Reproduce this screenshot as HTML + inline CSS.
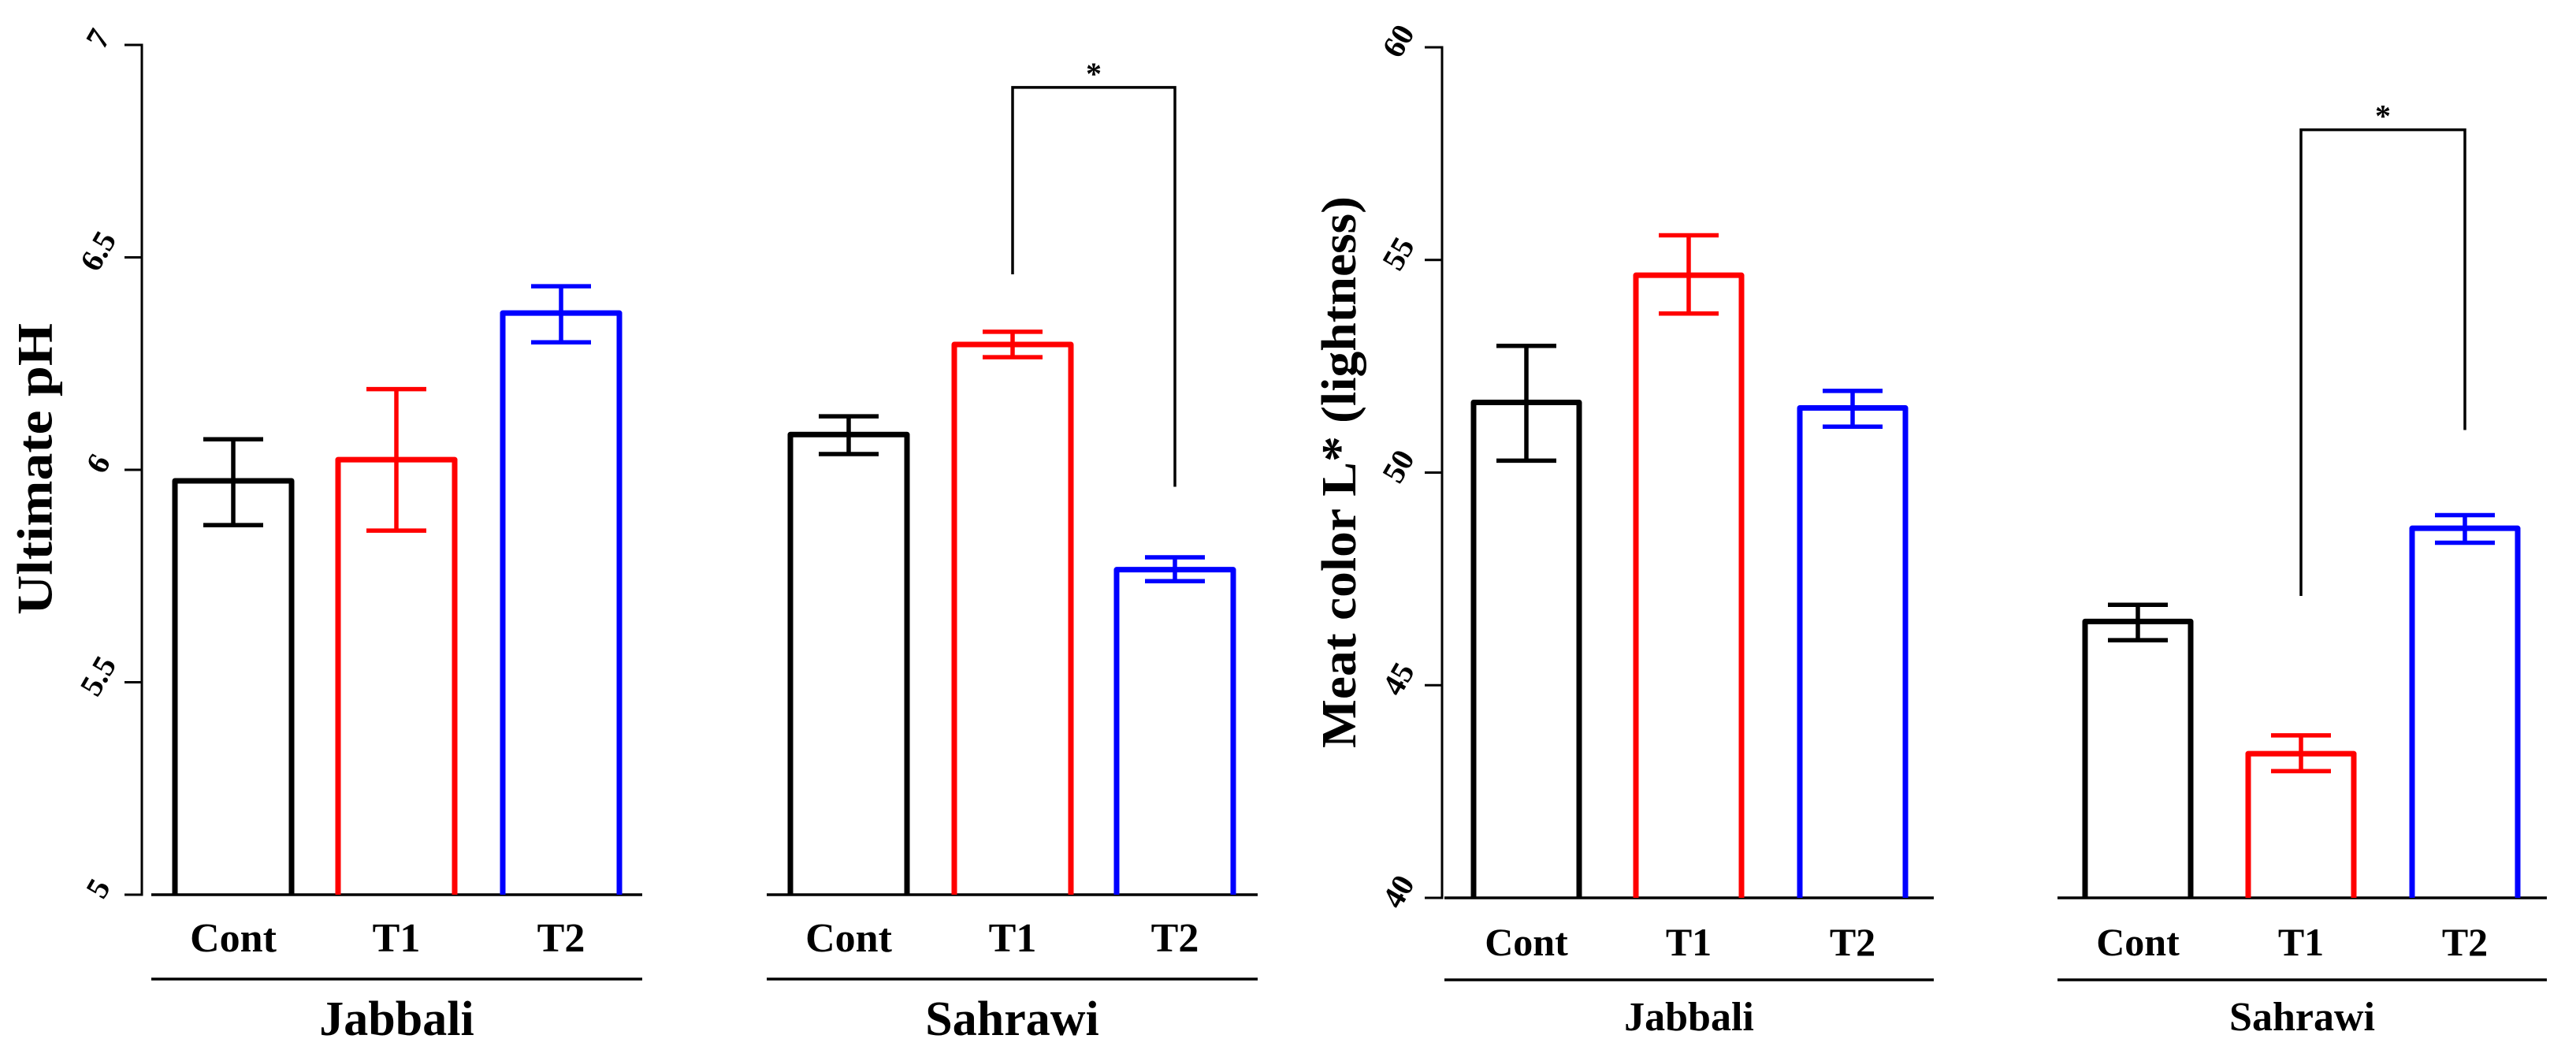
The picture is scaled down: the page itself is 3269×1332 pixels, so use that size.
<!DOCTYPE html>
<html><head><meta charset="utf-8"><style>
html,body{margin:0;padding:0;background:#fff;}
svg{display:block;font-family:"Liberation Serif",serif;font-weight:bold;}
</style></head><body>
<svg id="chart" width="3269" height="1332" viewBox="0 0 3269 1332" xmlns="http://www.w3.org/2000/svg"></svg>
<script>
// ---- data ----
const categories = ["Cont","T1","T2"];
const groups = ["Jabbali","Sahrawi"];
const phTicks = [5,5.5,6,6.5,7];
const phTickLabels = ["5","5.5","6","6.5","7"];
const phJabbaliMean = [5.974,6.024,6.369];
const phJabbaliHi = [6.072,6.19,6.432];
const phJabbaliLo = [5.870,5.857,6.30];
const phSahrawiMean = [6.083,6.295,5.765];
const phSahrawiHi = [6.126,6.325,5.794];
const phSahrawiLo = [6.037,6.265,5.738];
const phBracket = [6.90,6.46,5.96]; // top, left end, right end
const lTicks = [40,45,50,55,60];
const lTickLabels = ["40","45","50","55","60"];
const lJabbaliMean = [51.65,54.64,51.52];
const lJabbaliHi = [52.98,55.58,51.92];
const lJabbaliLo = [50.28,53.74,51.08];
const lSahrawiMean = [46.5,43.39,48.69];
const lSahrawiHi = [46.89,43.82,49.0];
const lSahrawiLo = [46.06,42.98,48.35];
const lBracket = [58.06,47.1,51.0];
const colors = ["#000","#ff0000","#0000ff"];

const svg = document.getElementById('chart');
const NS = "http://www.w3.org/2000/svg";
function mk(tag, attrs, parent){
  const e = document.createElementNS(NS, tag);
  for (const k in attrs) e.setAttribute(k, attrs[k]);
  (parent||svg).appendChild(e);
  return e;
}

function panel(cfg){
  const g = mk('g', {});
  
  
  const y = v => cfg.yBot - (v - cfg.vMin) / (cfg.vMax - cfg.vMin) * (cfg.yBot - cfg.yTop);
  const ax = mk('line', {x1:cfg.axX, x2:cfg.axX, y1:y(cfg.vMax)-1.5, y2:y(cfg.vMin)+1.5, stroke:'#000','stroke-width':3}, g);
  
  
  cfg.ticks.forEach((t,i)=>{
    const tk = mk('line', {x1:cfg.axX-22, x2:cfg.axX, y1:y(t), y2:y(t), stroke:'#000','stroke-width':3}, g);
    
    
    const lx = cfg.axX-52, ly = y(t)-6;
    const tl = mk('text', {x:lx, y:ly, 'font-size':40, 'text-anchor':'middle', 'dominant-baseline':'middle', transform:`rotate(-60 ${lx} ${ly})`}, g);
    tl.textContent = cfg.tickLabels[i];
    
    
  });
  const tt = mk('text', {x:cfg.titleX, y:cfg.titleY, 'font-size':cfg.titleSize, 'text-anchor':'middle', 'dominant-baseline':'middle', textLength:cfg.titleLen, lengthAdjust:'spacingAndGlyphs', transform:`rotate(-90 ${cfg.titleX} ${cfg.titleY})`}, g);
  tt.textContent = cfg.title;
  
  
  cfg.groupsData.forEach((gd, gi)=>{
    const gx = mk('line', {x1:gd.x0, x2:gd.x1, y1:cfg.yBot, y2:cfg.yBot, stroke:'#000','stroke-width':3.5}, g);
    
    
    gd.mean.forEach((m, ci)=>{
      const cx = gd.centers[ci];
      const hw = cfg.barW/2;
      const b = mk('path', {d:`M${cx-hw},${cfg.yBot} V${y(m)} H${cx+hw} V${cfg.yBot}`, fill:'none', stroke:colors[ci], 'stroke-width':7, 'stroke-linejoin':'round'}, g);
      
      
      const eb = mk('path', {d:`M${cx},${y(gd.hi[ci])} V${y(gd.lo[ci])} M${cx-38},${y(gd.hi[ci])} H${cx+38} M${cx-38},${y(gd.lo[ci])} H${cx+38}`, fill:'none', stroke:colors[ci], 'stroke-width':5.5}, g);
      
      
      const cl = mk('text', {x:cx, y:cfg.catY, 'font-size':cfg.catSize, 'text-anchor':'middle'}, g);
      cl.textContent = categories[ci];
      
      
    });
    const gl = mk('line', {x1:gd.x0, x2:gd.x1, y1:cfg.lineY, y2:cfg.lineY, stroke:'#000','stroke-width':3.5}, g);
    
    
    const gt = mk('text', {x:(gd.x0+gd.x1)/2, y:cfg.groupY, 'font-size':cfg.groupSize, 'text-anchor':'middle'}, g);
    gt.textContent = groups[gi];
    
    
  });
  const s = cfg.groupsData[1];
  const xa = s.centers[1], xb = s.centers[2];
  const br = mk('path', {d:`M${xa},${y(cfg.bracket[1])} V${y(cfg.bracket[0])} H${xb} V${y(cfg.bracket[2])}`, fill:'none', stroke:'#000','stroke-width':3.5}, g);
  
  
  const st = mk('text', {x:(xa+xb)/2, y:y(cfg.bracket[0])-4, 'font-size':40, 'text-anchor':'middle'}, g);
  st.textContent = '*';
  
  
}

panel({
  name:'ph-panel', vMin:5, vMax:7, yTop:57, yBot:1135, axX:180,
  ticks:phTicks, tickLabels:phTickLabels,
  title:'Ultimate pH', titleX:51, titleY:595, titleSize:64, titleLen:370,
  barW:148, catY:1207, catSize:52, lineY:1242, groupY:1313, groupSize:62,
  bracket:phBracket,
  groupsData:[
    {x0:192, x1:815, centers:[296,503,712], mean:phJabbaliMean, hi:phJabbaliHi, lo:phJabbaliLo},
    {x0:973, x1:1596, centers:[1077,1285,1491], mean:phSahrawiMean, hi:phSahrawiHi, lo:phSahrawiLo}
  ]
});
panel({
  name:'lightness-panel', vMin:40, vMax:60, yTop:60, yBot:1139, axX:1830,
  ticks:lTicks, tickLabels:lTickLabels,
  title:'Meat color L* (lightness)', titleX:1706, titleY:599, titleSize:62, titleLen:700,
  barW:134, catY:1212, catSize:50, lineY:1243, groupY:1307, groupSize:52,
  bracket:lBracket,
  groupsData:[
    {x0:1833, x1:2454, centers:[1937,2143,2351], mean:lJabbaliMean, hi:lJabbaliHi, lo:lJabbaliLo},
    {x0:2611, x1:3232, centers:[2713,2920,3128], mean:lSahrawiMean, hi:lSahrawiHi, lo:lSahrawiLo}
  ]
});
</script>
</body></html>
